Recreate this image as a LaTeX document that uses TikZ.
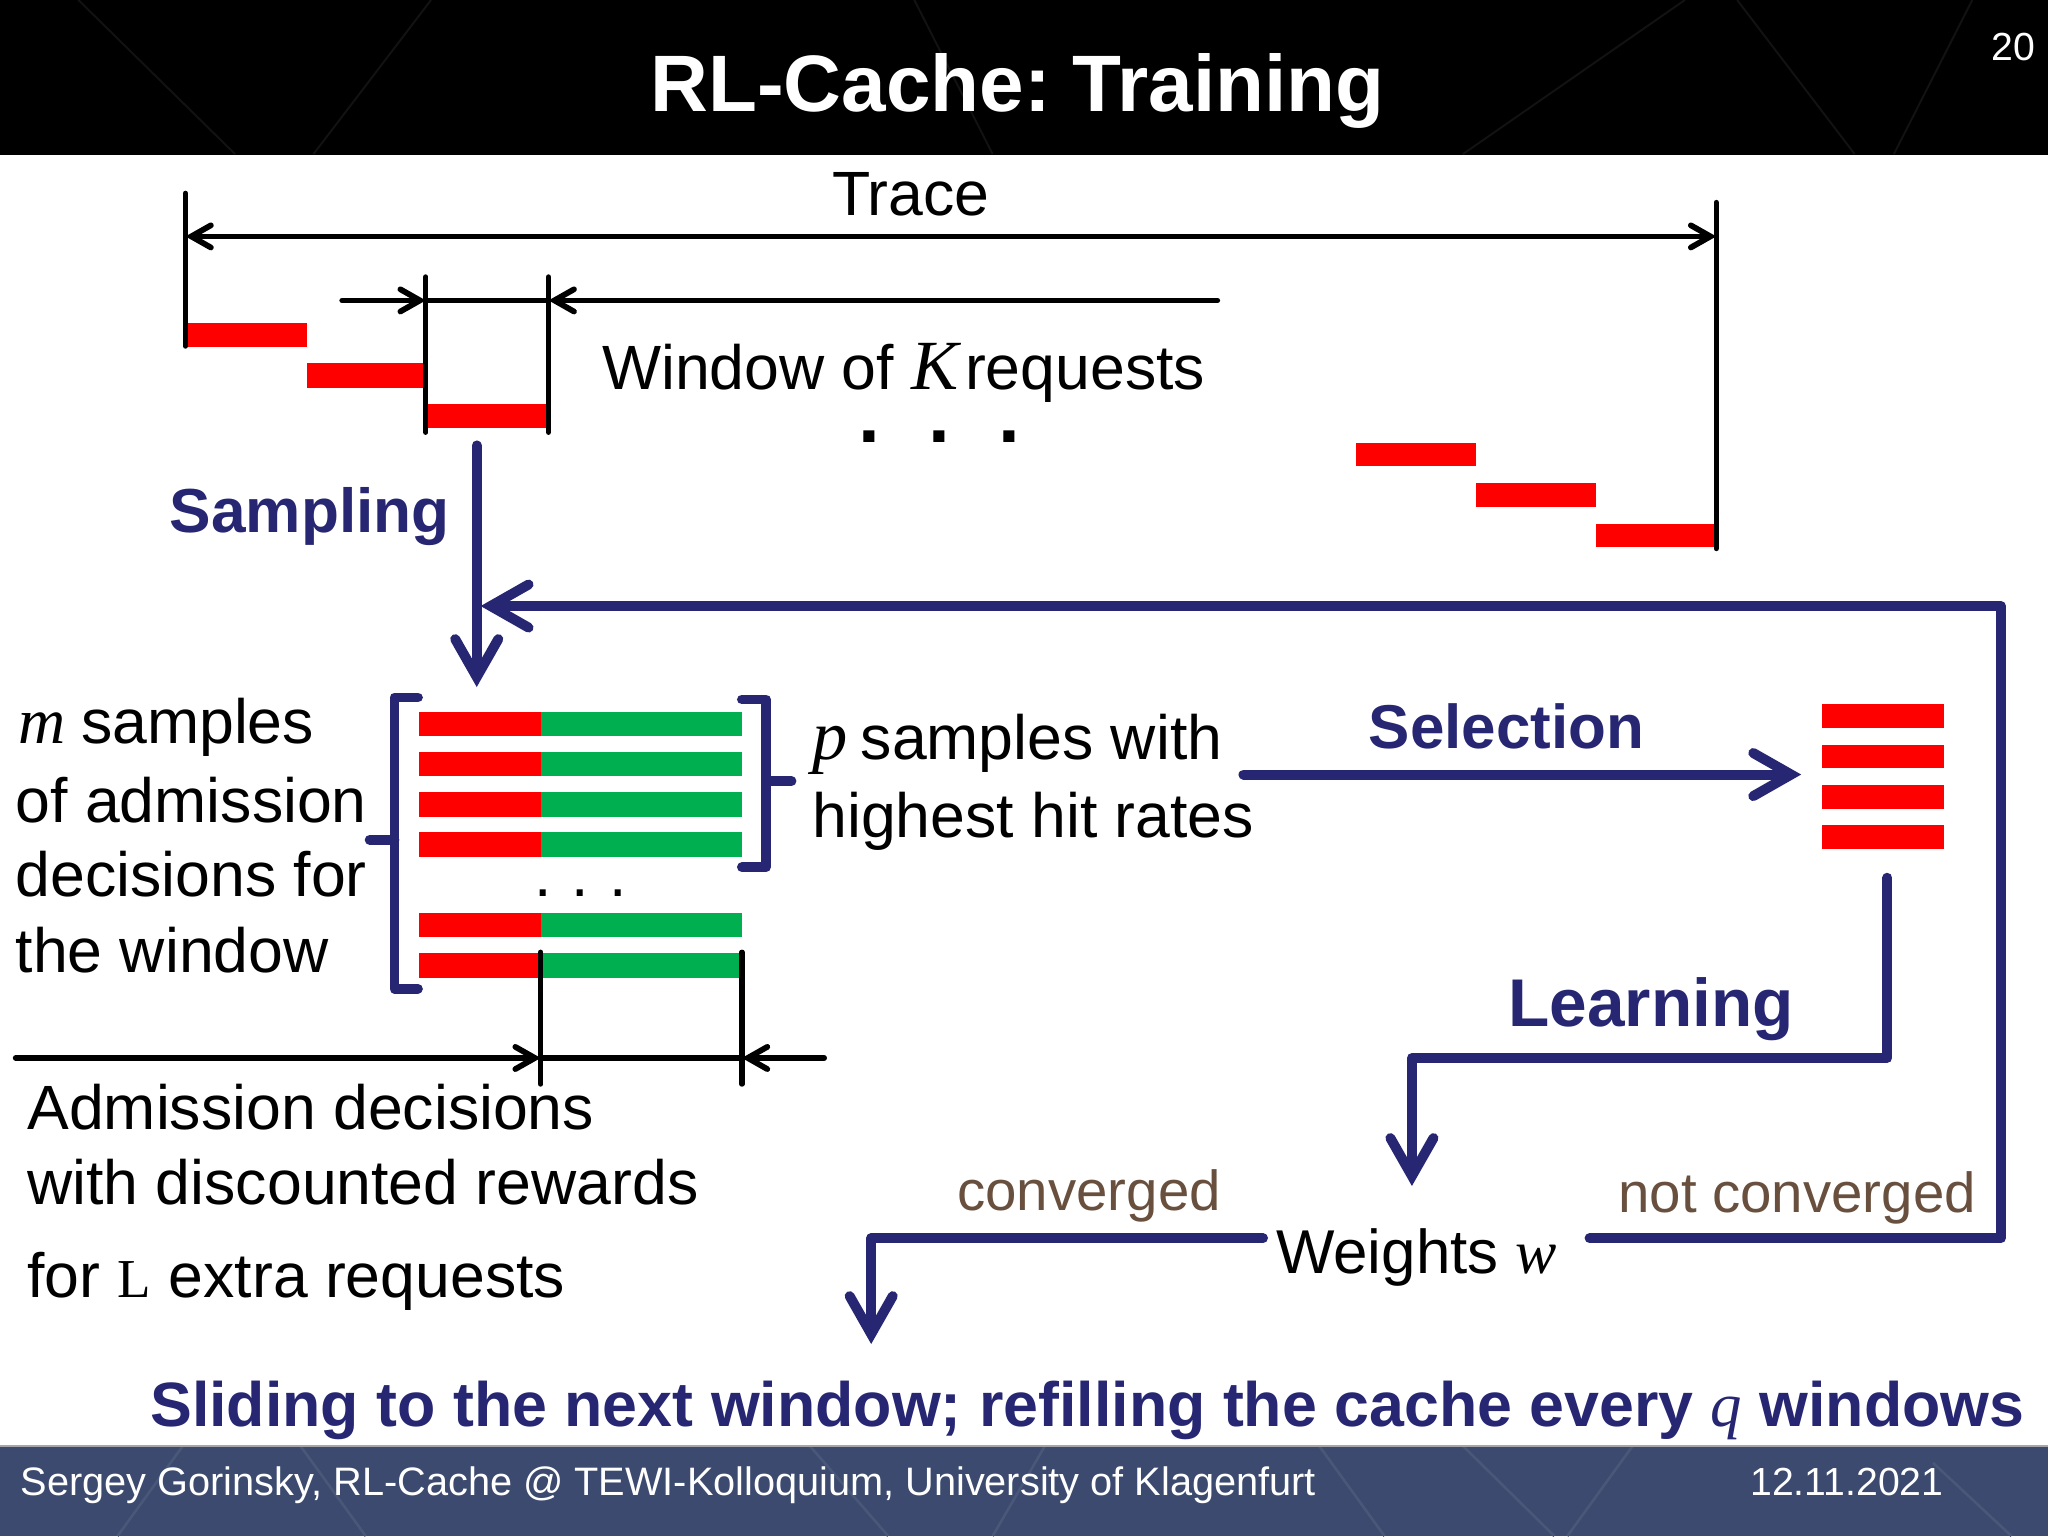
\documentclass[tikz,border=0pt]{standalone}
\usepackage{fontspec}
\usetikzlibrary{arrows.meta}
\setmainfont{Liberation Sans}
\newfontfamily\serifx{Liberation Serif}
\newcommand{\vi}[1]{{\serifx\itshape\mdseries #1}}
\newcommand{\fs}[1]{\fontsize{#1}{#1}\selectfont}
\definecolor{navy}{RGB}{38,38,115}
\definecolor{brownish}{RGB}{105,80,62}
\definecolor{barred}{RGB}{255,0,0}
\definecolor{bargreen}{RGB}{0,176,80}
\definecolor{footbg}{RGB}{59,74,110}
\tikzset{
  txt/.style={inner sep=0pt,outer sep=0pt,anchor=base west,font=\frenchspacing\fs{47.9}},
  blue bold/.style={txt,text=navy,font=\frenchspacing\fs{47.6}\bfseries},
  brown/.style={txt,text=brownish,font=\fs{43.2}},
  foot/.style={txt,text=white,font=\fs{30}},
  tick/.style={line width=4pt,line cap=round,black},
  dim/.style={line width=4.4pt,line cap=round,black,arrows={-Straight Barb[length=15pt,width=17pt,line cap=round,line join=miter]}},
  dimboth/.style={line width=4.4pt,line cap=round,black,arrows={Straight Barb[length=15pt,width=17pt,line cap=round,line join=miter]-Straight Barb[length=15pt,width=17pt,line cap=round,line join=miter]}},
  flow/.style={line width=7.6pt,line cap=round,line join=round,navy,arrows={-Straight Barb[length=29pt,width=33pt,line cap=round,line join=miter]}},
  brk/.style={line width=7.5pt,line cap=round,line join=round,navy},
  red/.style={fill=barred,draw=none},
  green/.style={fill=bargreen,draw=none},
}
% one sample row: red part then green part, top y is the argument
\newcommand{\samplerow}[1]{
  \fill[red] (321,#1) rectangle (414,#1+18.7);
  \fill[green] (414,#1) rectangle (568,#1+18.7);
}
\begin{document}
\begin{tikzpicture}[x=1pt,y=-1pt]
\useasboundingbox (0,0) rectangle (1568,1176);
\fill[white] (0,0) rectangle (1568,1176);

% title and footer bands
\fill[black] (0,0) rectangle (1568,118.5);
\begin{scope}
\clip (0,0) rectangle (1568,118.5);
\draw[line width=1.5pt,white!7!black] (60,0) -- (180,118) (240,118) -- (330,0) (700,0) -- (760,118) (1120,118) -- (1290,0) (1330,0) -- (1420,118) (1450,118) -- (1510,0);
\end{scope}
\fill[footbg] (0,1107) rectangle (1568,1176);
\begin{scope}
\clip (0,1107) rectangle (1568,1176);
\draw[line width=2pt,footbg!93!white] (90,1176) -- (140,1107) (230,1107) -- (280,1176) (620,1107) -- (680,1176) (760,1176) -- (800,1107) (1010,1107) -- (1060,1176) (1120,1107) -- (1190,1176) (1200,1176) -- (1250,1107) (1480,1120) -- (1540,1176);
\end{scope}
\draw[line width=1pt,black!35] (0,1107) -- (1568,1107);

\node[txt,text=white,font=\frenchspacing\fs{61.3}\bfseries] (title) at (498,85.5) {RL-Cache: Training};
\node[txt,text=white,font=\fs{30}] (page) at (1525,46) {20};
\node[foot,font=\fs{30.4}] (footer) at (16,1145) {Sergey Gorinsky, RL-Cache @ TEWI-Kolloquium, University of Klagenfurt};
\node[foot] (date) at (1340,1145) {12.11.2021};

% trace
\fill[red] (143,247) rectangle (235,266);
\fill[red] (235,278) rectangle (326,297);
\fill[red] (326,309) rectangle (420,328);
\fill[red] (1038,339) rectangle (1130,357);
\fill[red] (1130,370) rectangle (1222,388);
\fill[red] (1222,401) rectangle (1314,419);

\coordinate (tl) at (142,181);
\coordinate (tr) at (1314,181);
\draw[tick] (142,148) -- (142,265);
\draw[tick] (1314,155) -- (1314,420);
\draw[dimboth] (tl) -- (tr);
\node[txt] (trace) at (637,165) {Trace};

\coordinate (wa) at (326,230);
\coordinate (wb) at (420,230);
\coordinate (wl) at (262,230);
\coordinate (wr) at (932,230);
\draw[tick] (326,212) -- (326,331);
\draw[tick] (420,212) -- (420,331);
\draw[tick] (wa) -- (wb);
\draw[dim] (wl) -- (wa);
\draw[dim] (wr) -- (wb);
\node[txt] (window) at (461,298) {Window of \vi{\fs{54}K}\hspace{5pt}requests};
\node[txt,font=\fs{60}\bfseries] (dots1) at (657.5,339) {.\hspace{37pt}.\hspace{37pt}.};

% sampling
\coordinate (sa) at (365,341);
\coordinate (sb) at (365,526);
\draw[flow] (sa) -- (sb);
\node[blue bold] (sampling) at (130,408) {Sampling};

% samples
\samplerow{544.8}
\samplerow{575.5}
\samplerow{606.6}
\samplerow{637.2}
\samplerow{699}
\samplerow{730}
\node[txt] (dots2) at (409,686) {.\hspace{15.5pt}.\hspace{15.5pt}.};

\draw[brk] (320,534) -- (302,534) -- (302,757) -- (320,757);
\draw[brk] (283,643) -- (302,643);
\draw[brk] (568,535.5) -- (586.5,535.5) -- (586.5,664) -- (568,664);
\draw[brk] (586.5,598) -- (606,598);

\node[txt] (ml1) at (14,569) {\vi{\fs{50}m}\hspace{12pt}samples};
\node[txt] (ml2) at (12,629.5) {of admission};
\node[txt] (ml3) at (12,686.5) {decisions for};
\node[txt] (ml4) at (12,744.5) {the window};

\node[txt] (pl1) at (622,581.5) {\vi{\fs{54}p}\hspace{10pt}samples with};
\node[txt] (pl2) at (622,641.5) {highest hit rates};

% admission decisions
\coordinate (ah) at (414,810);
\coordinate (bh) at (568,810);
\coordinate (al) at (12,810);
\coordinate (br) at (631,810);
\draw[tick] (414,729) -- (414,830);
\draw[tick] (568,729) -- (568,830);
\draw[tick,line width=4.4pt] (ah) -- (bh);
\draw[dim] (al) -- (ah);
\draw[dim] (br) -- (bh);
\node[txt] (ad1) at (21,865) {Admission decisions};
\node[txt] (ad2) at (21,922) {with discounted rewards};
\node[txt] (ad3) at (21,993) {for {\serifx\fs{42}L} extra requests};

% selection
\coordinate (sela) at (952,593);
\coordinate (selb) at (1379,593);
\draw[flow] (sela) -- (selb);
\node[blue bold,font=\fs{47.4}\bfseries] (selection) at (1048,573) {Selection};
\fill[red] (1395,539) rectangle (1488,557);
\fill[red] (1395,570) rectangle (1488,588);
\fill[red] (1395,601) rectangle (1488,619);
\fill[red] (1395,632) rectangle (1488,650);

% learning
\coordinate (la) at (1445,672);
\coordinate (lb) at (1081,908);
\draw[flow] (la) -- (1445,810) -- (1081,810) -- (lb);
\node[blue bold,font=\fs{51.7}\bfseries] (learning) at (1155,786) {Learning};

% weights
\node[txt,font=\frenchspacing\fs{47.4}] (weights) at (977,975) {Weights \vi{w}};
\node[brown] (conv) at (733,927) {converged};
\node[brown] (nconv) at (1239,928) {not converged};
\coordinate (ca) at (967,948);
\coordinate (cb) at (667,1029);
\draw[flow] (ca) -- (667,948) -- (cb);
\coordinate (ra) at (1217,948);
\coordinate (rb) at (368,464);
\draw[flow] (ra) -- (1532,948) -- (1532,464) -- (rb);

\node[blue bold,font=\frenchspacing\fs{48}\bfseries] (sliding) at (115,1092) {Sliding to the next window; refilling the cache every \vi{q} windows};
\end{tikzpicture}
\end{document}
